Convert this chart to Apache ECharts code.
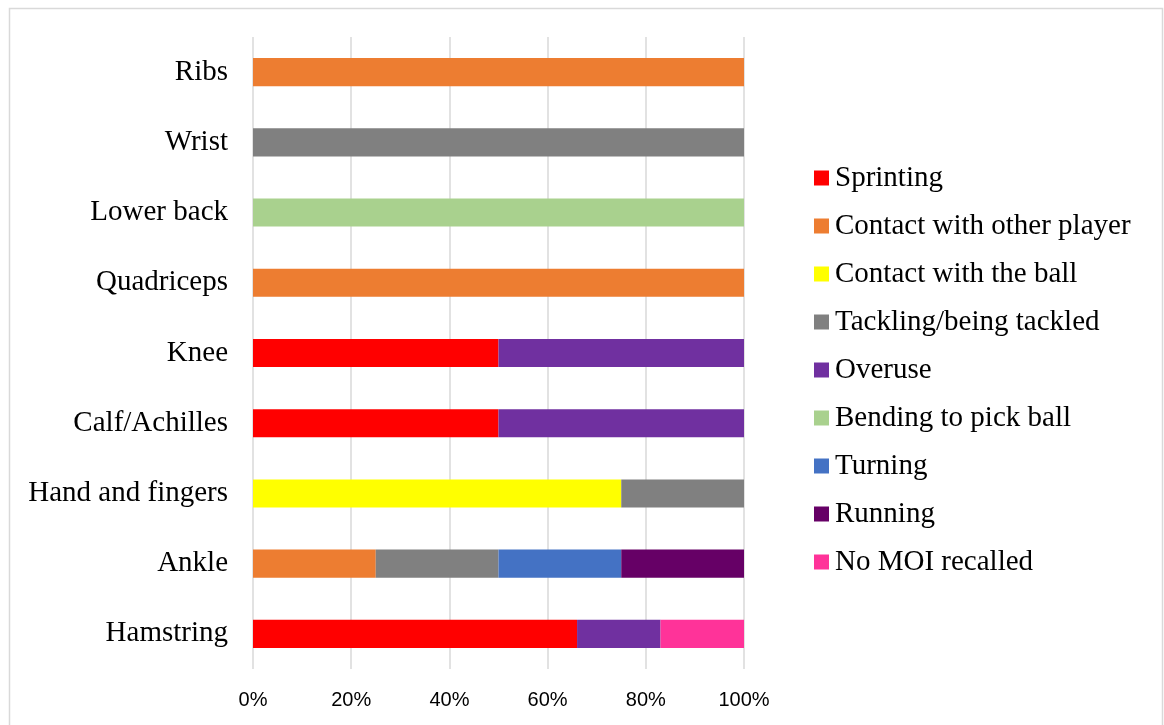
<!DOCTYPE html>
<html>
<head>
<meta charset="utf-8">
<script src="https://cdn.jsdelivr.net/npm/echarts@6/dist/echarts.min.js"></script>
<style>
  html, body { margin: 0; padding: 0; background: #fff; }
  #chart { width: 1164px; height: 725px; }
</style>
</head>
<body>
<div id="chart"></div>
<script>
// Body regions, listed bottom to top along the category axis
const regions = ['Hamstring', 'Ankle', 'Hand and fingers', 'Calf/Achilles', 'Knee', 'Quadriceps', 'Lower back', 'Wrist', 'Ribs'];

// Share (%) of injuries per mechanism, one value per region
const sprinting      = [66, 0, 0, 50, 50, 0, 0, 0, 0];
const contactPlayer  = [0, 25, 0, 0, 0, 100, 0, 0, 100];
const contactBall    = [0, 0, 75, 0, 0, 0, 0, 0, 0];
const tackling       = [0, 25, 25, 0, 0, 0, 0, 100, 0];
const overuse        = [17, 0, 0, 50, 50, 0, 0, 0, 0];
const bending        = [0, 0, 0, 0, 0, 0, 100, 0, 0];
const turning        = [0, 25, 0, 0, 0, 0, 0, 0, 0];
const running        = [0, 25, 0, 0, 0, 0, 0, 0, 0];
const noMoi          = [17, 0, 0, 0, 0, 0, 0, 0, 0];

const xTicks = [0, 20, 40, 60, 80, 100];

const mechanisms = [
  { name: 'Sprinting', data: sprinting, color: '#FF0000' },
  { name: 'Contact with other player', data: contactPlayer, color: '#ED7D31' },
  { name: 'Contact with the ball', data: contactBall, color: '#FFFF00' },
  { name: 'Tackling/being tackled', data: tackling, color: '#808080' },
  { name: 'Overuse', data: overuse, color: '#7030A0' },
  { name: 'Bending to pick ball', data: bending, color: '#A9D18E' },
  { name: 'Turning', data: turning, color: '#4472C4' },
  { name: 'Running', data: running, color: '#660066' },
  { name: 'No MOI recalled', data: noMoi, color: '#FF3399' }
];

const serif = '"Liberation Serif", "Times New Roman", serif';

const chart = echarts.init(document.getElementById('chart'), null, { renderer: 'canvas' });

chart.setOption({
  animation: false,
  backgroundColor: '#ffffff',
  graphic: [{
    type: 'rect',
    left: 7, top: 6,
    shape: { width: 1153, height: 730 },
    style: { fill: 'none', stroke: '#D9D9D9', lineWidth: 1.5 },
    silent: true
  }],
  grid: { left: 253, right: 420, top: 37, bottom: 56, containLabel: false },
  legend: {
    orient: 'vertical',
    left: 814,
    top: 162,
    padding: 0,
    itemWidth: 15,
    itemHeight: 15,
    itemGap: 16,
    icon: 'rect',
    data: mechanisms.map(m => m.name),
    textStyle: { fontFamily: serif, fontSize: 29, color: '#000', lineHeight: 32, padding: [0, 0, 0, 1] }
  },
  xAxis: {
    type: 'value',
    min: xTicks[0],
    max: xTicks[xTicks.length - 1],
    interval: xTicks[1] - xTicks[0],
    axisLine: { show: false },
    axisTick: { show: false },
    splitLine: { lineStyle: { color: '#D9D9D9', width: 1.5 } },
    axisLabel: {
      formatter: '{value}%',
      fontFamily: '"Liberation Sans", Arial, sans-serif',
      fontSize: 20,
      color: '#000',
      margin: 21
    }
  },
  yAxis: {
    type: 'category',
    data: regions,
    axisLine: { show: false },
    axisTick: { show: false },
    axisLabel: { fontFamily: serif, fontSize: 29, color: '#000', margin: 25 }
  },
  series: mechanisms.map(m => ({
    name: m.name,
    type: 'bar',
    stack: 'total',
    barCategoryGap: '60%',
    itemStyle: { color: m.color },
    data: m.data
  }))
});
</script>
</body>
</html>
